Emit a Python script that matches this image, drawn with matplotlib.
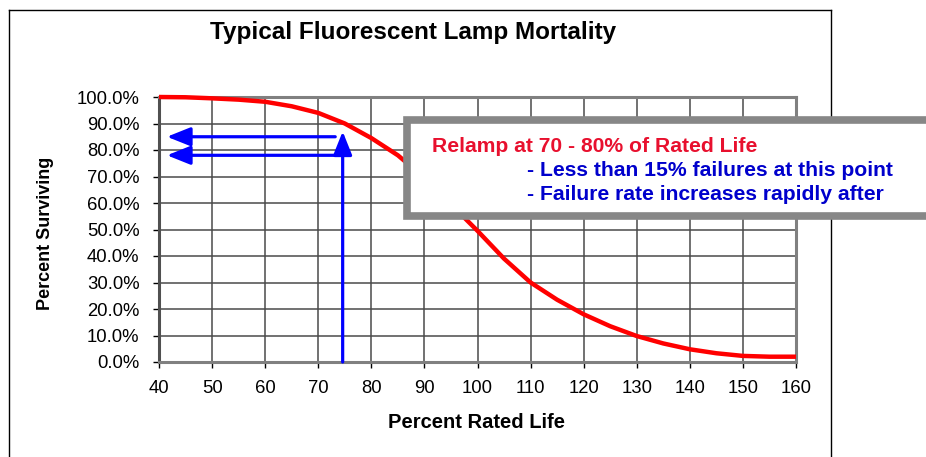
import matplotlib
matplotlib.use("Agg")
import matplotlib.pyplot as plt
from matplotlib.patches import Rectangle
from matplotlib.lines import Line2D
from matplotlib.ticker import FuncFormatter

plt.rcParams['font.family'] = ['Liberation Sans', 'DejaVu Sans']

# ---- data ----
rated_life = [40, 45, 50, 55, 60, 65, 70, 75, 80, 85, 90, 95, 100, 105, 110,
              115, 120, 125, 130, 135, 140, 145, 150, 155, 160]
surviving = [100.0, 99.9, 99.5, 99.0, 98.2, 96.5, 94.0, 90.0, 84.5, 78.0, 69.5,
             59.5, 49.5, 39.0, 30.0, 23.5, 18.0, 13.5, 9.8, 7.0, 4.8, 3.3, 2.3, 2.0, 2.0]

x_ticks = [40, 50, 60, 70, 80, 90, 100, 110, 120, 130, 140, 150, 160]
y_ticks = [0, 10, 20, 30, 40, 50, 60, 70, 80, 90, 100]

# annotation arrows (data coordinates)
h_arrow_levels = [85, 78]
h_arrow_from = 73.2
h_arrow_to = 41.5
v_arrow_x = 74.6
v_arrow_from = 0
v_arrow_to = 87

title = "Typical Fluorescent Lamp Mortality"
xlabel = "Percent Rated Life"
ylabel = "Percent Surviving"
note_lines = ["Relamp at 70 - 80% of Rated Life",
              "- Less than 15% failures at this point",
              "- Failure rate increases rapidly after"]

W, H = 926, 457
fig = plt.figure(figsize=(W / 100, H / 100), dpi=100)
fig.patch.set_facecolor('white')

def fx(px):
    return px / W

def fy(py):
    return 1 - py / H

ax = fig.add_axes([fx(159), fy(362), fx(796) - fx(159), fy(97) - fy(362)])
ax.set_xlim(40, 160)
ax.set_ylim(0, 100)
ax.set_xticks(x_ticks)
ax.set_yticks(y_ticks)
ax.yaxis.set_major_formatter(FuncFormatter(lambda v, p: f"{v:.1f}%"))
ax.grid(True, color='#4a4a4a', linewidth=1.1)
ax.set_axisbelow(True)
for side, sp in ax.spines.items():
    sp.set_color('#808080')
    sp.set_linewidth(2.2)
ax.spines['left'].set_color('#505050')
ax.tick_params(axis='both', direction='out', length=4, width=1, color='black',
               labelsize=13.3, labelcolor='black')
ax.tick_params(axis='y', pad=10)
ax.tick_params(axis='x', pad=9)

ax.plot(rated_life, surviving, color='#ff0000', linewidth=3.2,
        solid_capstyle='butt', zorder=3, clip_on=False)

arrow_kw = dict(arrowstyle='-|>,head_length=0.95,head_width=0.38',
                color='#0000ff', lw=2.3, shrinkA=0, shrinkB=0,
                mutation_scale=15)
for lvl in h_arrow_levels:
    ax.annotate('', xy=(h_arrow_to, lvl), xytext=(h_arrow_from, lvl),
                arrowprops=arrow_kw, zorder=4)
ax.annotate('', xy=(v_arrow_x, v_arrow_to), xytext=(v_arrow_x, v_arrow_from),
            arrowprops=arrow_kw, zorder=4)

ax.set_xlabel(xlabel, fontsize=14.5, fontweight='bold', labelpad=0)
ax.xaxis.set_label_coords((476 - 159) / (796 - 159), (362 - 422) / (362 - 97),
                          transform=ax.transAxes)
ax.xaxis.label.set_va('center')
ax.set_ylabel(ylabel, fontsize=13, fontweight='bold')
ax.yaxis.set_label_coords((46 - 159) / (796 - 159), (362 - 233) / (362 - 97),
                          transform=ax.transAxes)
ax.yaxis.label.set_va('center')

fig.text(fx(413), fy(33), title, fontsize=17.5, fontweight='bold',
         ha='center', va='center')

# outer frame
for xs, ys in [((9, 9), (10, 470)), ((9, 831), (10, 10)), ((831, 831), (10, 470))]:
    fig.add_artist(Line2D([fx(x) for x in xs], [fy(y) for y in ys],
                          color='black', linewidth=1.0))

# note box
box = Rectangle((fx(407), fy(216.5)), fx(940) - fx(407), fy(119.5) - fy(216.5),
                transform=fig.transFigure, facecolor='white', edgecolor='#878787',
                linewidth=5.5, zorder=10, clip_on=False)
fig.add_artist(box)
fig.text(fx(432), fy(152), note_lines[0], fontsize=15.2, fontweight='bold',
         color='#e8102e', ha='left', va='baseline', zorder=11)
fig.text(fx(527), fy(175.5), note_lines[1], fontsize=15.2, fontweight='bold',
         color='#0000cc', ha='left', va='baseline', zorder=11)
fig.text(fx(527), fy(200), note_lines[2], fontsize=15.2, fontweight='bold',
         color='#0000cc', ha='left', va='baseline', zorder=11)

fig.savefig('out.png', dpi=100)
